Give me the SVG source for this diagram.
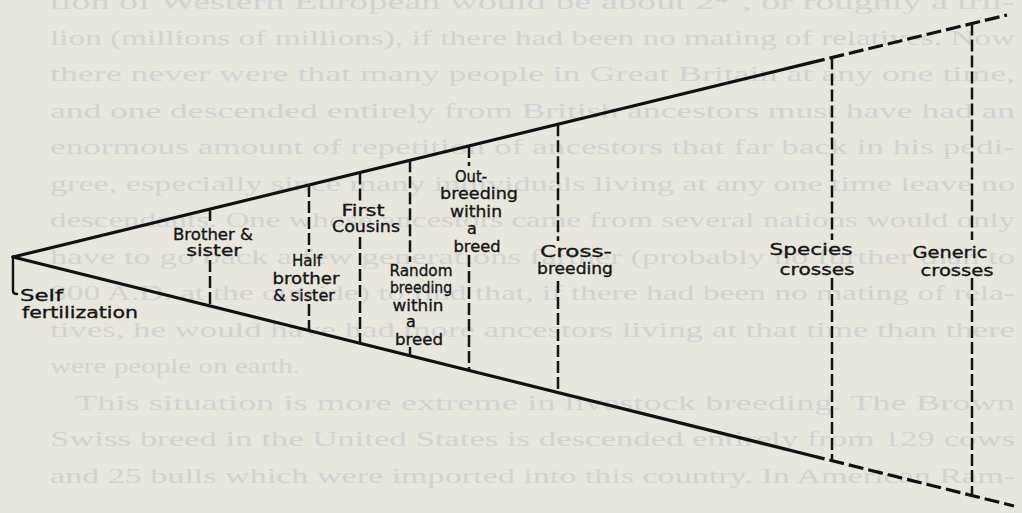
<svg xmlns="http://www.w3.org/2000/svg" width="1022" height="513" viewBox="0 0 1022 513">
<style>
.page{font-family:"Liberation Serif","Times New Roman",serif;font-size:22px;fill:#d1d4d4}
.lbl{font-family:"DejaVu Sans","Liberation Sans",sans-serif;font-size:16px;fill:#151515;stroke:#151515;stroke-width:0.35;text-anchor:middle}
.lbl-l{font-family:"DejaVu Sans","Liberation Sans",sans-serif;font-size:16px;fill:#151515;stroke:#151515;stroke-width:0.35}
.edge{stroke:#111;stroke-width:3.2;fill:none;stroke-linecap:round}
.edge-d{stroke:#111;stroke-width:3.2;fill:none;stroke-dasharray:15 5}
.div{stroke:#151515;stroke-width:2.5;fill:none;stroke-dasharray:12 4}
</style>
<rect width="1022" height="513" fill="#e9e6dd"/>
<g id="page-text">
<text class="page" x="50" y="9" textLength="965" lengthAdjust="spacingAndGlyphs">tion of Western European would be about 2⁴⁰, or roughly a tril-</text>
<text class="page" x="50" y="44.5" textLength="965" lengthAdjust="spacingAndGlyphs">lion (millions of millions), if there had been no mating of relatives. Now</text>
<text class="page" x="50" y="81" textLength="965" lengthAdjust="spacingAndGlyphs">there never were that many people in Great Britain at any one time,</text>
<text class="page" x="50" y="117.5" textLength="965" lengthAdjust="spacingAndGlyphs">and one descended entirely from British ancestors must have had an</text>
<text class="page" x="50" y="154" textLength="965" lengthAdjust="spacingAndGlyphs">enormous amount of repetition of ancestors that far back in his pedi-</text>
<text class="page" x="50" y="190.5" textLength="965" lengthAdjust="spacingAndGlyphs">gree, especially since many individuals living at any one time leave no</text>
<text class="page" x="50" y="227" textLength="965" lengthAdjust="spacingAndGlyphs">descendants. One whose ancestors came from several nations would only</text>
<text class="page" x="50" y="263.5" textLength="965" lengthAdjust="spacingAndGlyphs">have to go back a few generations farther (probably no further than to</text>
<text class="page" x="50" y="300" textLength="965" lengthAdjust="spacingAndGlyphs">800 A.D. at the outside) to find that, if there had been no mating of rela-</text>
<text class="page" x="50" y="336.5" textLength="965" lengthAdjust="spacingAndGlyphs">tives, he would have had more ancestors living at that time than there</text>
<text class="page" x="50" y="373" textLength="250" lengthAdjust="spacingAndGlyphs">were people on earth.</text>
<text class="page" x="75" y="409.5" textLength="940" lengthAdjust="spacingAndGlyphs">This situation is more extreme in livestock breeding. The Brown</text>
<text class="page" x="50" y="446" textLength="965" lengthAdjust="spacingAndGlyphs">Swiss breed in the United States is descended entirely from 129 cows</text>
<text class="page" x="50" y="482.5" textLength="965" lengthAdjust="spacingAndGlyphs">and 25 bulls which were imported into this country. In American Ram-</text>
</g>
<g id="connectors">
<path class="edge" d="M13,257 L810,62.9"/>
<path class="edge-d" d="M810,62.9 L1007,15"/>
<path class="edge" d="M13,257 L810,455.2"/>
<path class="edge-d" d="M810,455.2 L1014,506"/>
</g>
<g id="self-fertilization">
<path class="edge" style="stroke-width:2.4" d="M13,257 V291 q0,3 4,3"/>
<text class="lbl-l" x="20" y="301" textLength="43" lengthAdjust="spacingAndGlyphs">Self</text>
<text class="lbl-l" x="22" y="318" textLength="116" lengthAdjust="spacingAndGlyphs">fertilization</text>
</g>
<g id="brother-sister">
<path class="div" d="M210,209 V225 M210,260 V306"/>
<text class="lbl" x="213" y="240" textLength="80" lengthAdjust="spacingAndGlyphs">Brother &amp;</text>
<text class="lbl" x="214" y="256" textLength="55" lengthAdjust="spacingAndGlyphs">sister</text>
</g>
<g id="half-brother-sister">
<path class="div" d="M309,185 V252 M309,304 V330.6"/>
<text class="lbl" x="307" y="266" textLength="30" lengthAdjust="spacingAndGlyphs">Half</text>
<text class="lbl" x="306" y="284" textLength="67" lengthAdjust="spacingAndGlyphs">brother</text>
<text class="lbl" x="304" y="301" textLength="62" lengthAdjust="spacingAndGlyphs">&amp; sister</text>
</g>
<g id="first-cousins">
<path class="div" d="M360,172.5 V202 M360,237 V343.3"/>
<text class="lbl" x="363" y="216" textLength="43" lengthAdjust="spacingAndGlyphs">First</text>
<text class="lbl" x="366" y="232" textLength="68" lengthAdjust="spacingAndGlyphs">Cousins</text>
</g>
<g id="random-breeding">
<path class="div" d="M410,160.3 V262 M410,347 V355.7"/>
<text class="lbl" x="421" y="276" textLength="63" lengthAdjust="spacingAndGlyphs">Random</text>
<text class="lbl" x="421" y="293" textLength="62" lengthAdjust="spacingAndGlyphs">breeding</text>
<text class="lbl" x="418" y="311" textLength="51" lengthAdjust="spacingAndGlyphs">within</text>
<text class="lbl" x="411" y="327">a</text>
<text class="lbl" x="419" y="345" textLength="48" lengthAdjust="spacingAndGlyphs">breed</text>
</g>
<g id="out-breeding">
<path class="div" d="M469,146 V166 M469,255 V370.4"/>
<text class="lbl" x="471" y="182" textLength="32" lengthAdjust="spacingAndGlyphs">Out-</text>
<text class="lbl" x="479" y="199" textLength="78" lengthAdjust="spacingAndGlyphs">breeding</text>
<text class="lbl" x="476" y="217" textLength="52" lengthAdjust="spacingAndGlyphs">within</text>
<text class="lbl" x="472" y="234">a</text>
<text class="lbl" x="477" y="252" textLength="47" lengthAdjust="spacingAndGlyphs">breed</text>
</g>
<g id="cross-breeding">
<path class="div" d="M558,124.3 V241 M558,281 V392.5"/>
<text class="lbl" x="576" y="257" textLength="72" lengthAdjust="spacingAndGlyphs">Cross-</text>
<text class="lbl" x="575" y="274" textLength="76" lengthAdjust="spacingAndGlyphs">breeding</text>
</g>
<g id="species-crosses">
<path class="div" d="M832,57.6 V240 M832,278 V460.7"/>
<text class="lbl" x="811" y="255" textLength="83" lengthAdjust="spacingAndGlyphs">Species</text>
<text class="lbl" x="817" y="275" textLength="75" lengthAdjust="spacingAndGlyphs">crosses</text>
</g>
<g id="generic-crosses">
<path class="div" d="M972,23.5 V240 M972,278 V495.5"/>
<text class="lbl" x="950" y="258" textLength="75" lengthAdjust="spacingAndGlyphs">Generic</text>
<text class="lbl" x="957" y="276" textLength="73" lengthAdjust="spacingAndGlyphs">crosses</text>
</g>
</svg>
